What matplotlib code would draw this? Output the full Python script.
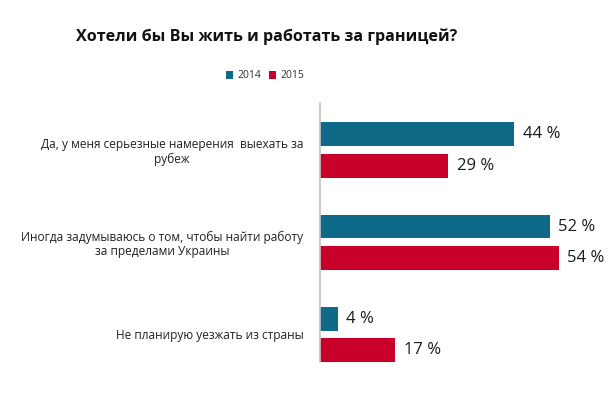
import matplotlib
matplotlib.use("Agg")
import matplotlib.pyplot as plt
import numpy as np

TEAL = "#0E6A87"
RED = "#C8002A"
INK = "#1a1a1a"
AXIS = "#c4c4c4"

categories = [
    "Да, у меня серьезные намерения  выехать за\nрубеж",
    "Иногда задумываюсь о том, чтобы найти работу\nза пределами Украины",
    "Не планирую уезжать из страны",
]
years = ["2014", "2015"]
values_2014 = [44, 52, 4]
values_2015 = [29, 54, 17]

plt.rcParams["font.family"] = ["Open Sans", "DejaVu Sans"]

fig = plt.figure(figsize=(6.10, 3.97), dpi=100)
ax = fig.add_axes([320 / 610, 1 - 362 / 397, 265 / 610, 259 / 397])

y = np.arange(len(categories))
off, bh = 0.17, 0.26
ax.barh(y - off, values_2014, bh, color=TEAL, label=years[0])
ax.barh(y + off, values_2015, bh, color=RED, label=years[1])

for yi, v in zip(y - off, values_2014):
    ax.text(v + 2, yi, f"{v} %", va="center", ha="left", fontsize=12, color=INK)
for yi, v in zip(y + off, values_2015):
    ax.text(v + 2, yi, f"{v} %", va="center", ha="left", fontsize=12, color=INK)

ax.set_xlim(0, 60)
ax.set_ylim(2.3, -0.51)
ax.set_yticks(y)
ax.set_yticklabels(categories, fontsize=8.6, color="#222222",
                   multialignment="center", linespacing=1.15)
ax.tick_params(axis="y", length=0, pad=12)
ax.set_xticks([])
for s in ("top", "right", "bottom"):
    ax.spines[s].set_visible(False)
ax.spines["left"].set_color(AXIS)
ax.spines["left"].set_linewidth(1.2)

fig.text(267 / 610, 1 - 37 / 397, "Хотели бы Вы жить и работать за границей?",
         ha="center", va="center", fontsize=11.6, fontweight="bold", color="#111111")

fig.legend(loc="center", bbox_to_anchor=(265 / 610, 1 - 76 / 397), ncol=2,
           frameon=False, fontsize=7.5, handlelength=0.7, handleheight=0.7,
           handletextpad=0.4, columnspacing=0.8, labelcolor="#333333")

fig.savefig("out.png", dpi=100)
